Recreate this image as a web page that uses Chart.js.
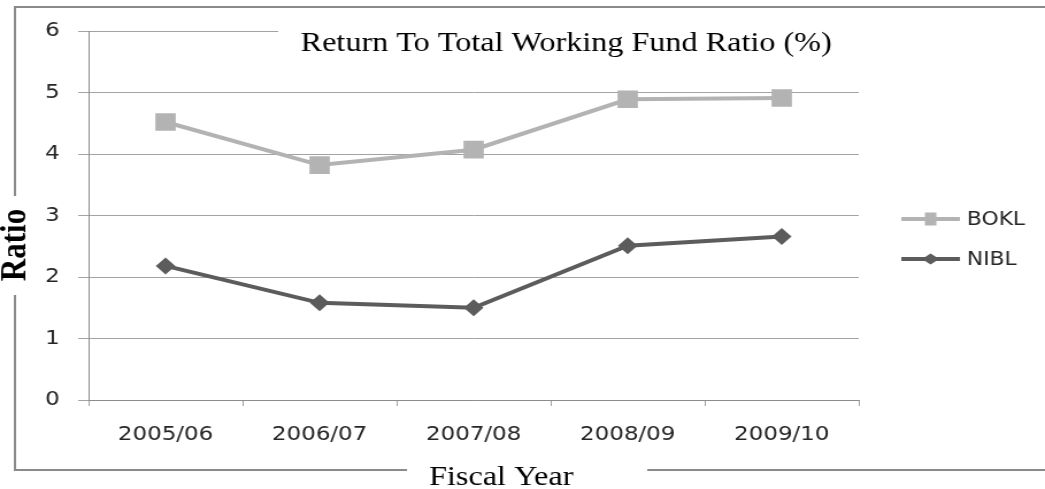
<!DOCTYPE html>
<html><head><meta charset="utf-8">
<script src="https://cdn.jsdelivr.net/npm/chart.js@4/dist/chart.umd.min.js"></script>
<style>
html,body{margin:0;padding:0;background:#fff;overflow:hidden}
#c{display:block}
</style></head><body>
<canvas id="c" width="909" height="489" style="width:1045px;height:489px"></canvas>
<script>
const categories = ['2005/06', '2006/07', '2007/08', '2008/09', '2009/10'];
const bokl = [4.52, 3.82, 4.07, 4.89, 4.91];
const nibl = [2.18, 1.58, 1.50, 2.51, 2.66];
const seriesNames = ['BOKL', 'NIBL'];
const yTickValues = [0, 1, 2, 3, 4, 5, 6];
const chartTitle = 'Return To Total Working Fund Ratio (%)';
const yTitle = 'Ratio';
const xTitle = 'Fiscal Year';

const colBOKL = '#b3b3b3';
const colNIBL = '#5c5c5c';
const gridCol = '#a3a3a3';
const axisCol = '#8c8c8c';
const frameCol = '#8a8a8a';
const textCol = '#262626';

const decor = {
  id: 'decor',
  beforeDraw(chart) {
    const ctx = chart.ctx;
    ctx.save();
    ctx.fillStyle = '#fff';
    ctx.fillRect(0, 0, chart.width, chart.height);
    ctx.strokeStyle = frameCol;
    ctx.lineWidth = 2;
    ctx.strokeRect(13, 7, chart.width + 20, 463);
    ctx.fillStyle = '#fff';
    ctx.fillRect(9, 196, 8, 99);
    ctx.fillRect(354, 465, 209, 8);
    ctx.restore();
  },
  afterDraw(chart) {
    const ctx = chart.ctx;
    const ca = chart.chartArea;
    ctx.save();
    // title box hides top gridline
    ctx.fillStyle = '#fff';
    ctx.fillRect(242, ca.top - 3, ca.right - 242 + 2, 6);
    ctx.fillStyle = '#000';
    ctx.font = '28px "Liberation Serif", "Times New Roman", serif';
    ctx.textAlign = 'left';
    ctx.textBaseline = 'alphabetic';
    ctx.fillText(chartTitle, 261.5, 51);
    // x title
    ctx.font = '28px "Liberation Serif", "Times New Roman", serif';
    ctx.textAlign = 'center';
    ctx.fillText(xTitle, 436, 485);
    // y title
    ctx.save();
    ctx.translate(21.5, 245);
    ctx.rotate(-Math.PI / 2);
    ctx.font = 'bold 31px "Liberation Serif", "Times New Roman", serif';
    ctx.textAlign = 'center';
    ctx.textBaseline = 'alphabetic';
    ctx.fillText(yTitle, 0, 0);
    ctx.restore();
    // legend
    const rows = [219, 259];
    chart.data.datasets.forEach((ds, i) => {
      const y = rows[i];
      ctx.strokeStyle = ds.borderColor;
      ctx.lineWidth = 4;
      ctx.beginPath();
      ctx.moveTo(784, y);
      ctx.lineTo(835, y);
      ctx.stroke();
      ctx.fillStyle = ds.borderColor;
      const mx = 809.5;
      if (ds.pointStyle === 'rect') {
        ctx.fillRect(mx - 5, y - 6.5, 10, 13);
      } else {
        ctx.beginPath();
        ctx.moveTo(mx, y - 5.5);
        ctx.lineTo(mx + 7.5, y);
        ctx.lineTo(mx, y + 5.5);
        ctx.lineTo(mx - 7.5, y);
        ctx.closePath();
        ctx.fill();
      }
      ctx.fillStyle = textCol;
      ctx.font = '19px "DejaVu Sans", sans-serif';
      ctx.textAlign = 'left';
      ctx.textBaseline = 'middle';
      ctx.fillText(ds.label, 841, y + 1);
    });
    ctx.restore();
  }
};

new Chart(document.getElementById('c'), {
  type: 'line',
  data: {
    labels: categories,
    datasets: [
      {
        label: seriesNames[0],
        data: bokl,
        borderColor: colBOKL,
        backgroundColor: colBOKL,
        borderWidth: 4,
        pointStyle: 'rect',
        pointRadius: 12.5,
        pointBorderWidth: 0,
        pointBackgroundColor: colBOKL,
        tension: 0
      },
      {
        label: seriesNames[1],
        data: nibl,
        borderColor: colNIBL,
        backgroundColor: colNIBL,
        borderWidth: 4,
        pointStyle: 'rectRot',
        pointRadius: 8.5,
        pointBorderWidth: 0,
        pointBackgroundColor: colNIBL,
        tension: 0
      }
    ]
  },
  options: {
    responsive: false,
    animation: false,
    devicePixelRatio: 1,
    layout: { padding: { left: 0, top: 31, right: 162, bottom: 0 } },
    plugins: { legend: { display: false }, tooltip: { enabled: false }, title: { display: false } },
    scales: {
      x: {
        type: 'category',
        offset: true,
        grid: { display: true, drawOnChartArea: false, drawTicks: true, tickLength: 6, color: gridCol, offset: true },
        border: { display: true, color: axisCol, width: 1 },
        ticks: { color: textCol, font: { family: 'DejaVu Sans', size: 20 }, padding: 17, maxRotation: 0 },
        afterFit(s) { s.height = 89; }
      },
      y: {
        min: 0,
        max: 6,
        afterBuildTicks(s) { s.ticks = yTickValues.map(v => ({ value: v })); },
        grid: { color: gridCol, tickLength: 9, drawTicks: true },
        border: { display: true, color: axisCol, width: 1 },
        ticks: { color: textCol, font: { family: 'DejaVu Sans', size: 20 }, padding: 16 },
        afterFit(s) { s.width = 77; }
      }
    }
  },
  plugins: [decor]
});
</script>
</body></html>
